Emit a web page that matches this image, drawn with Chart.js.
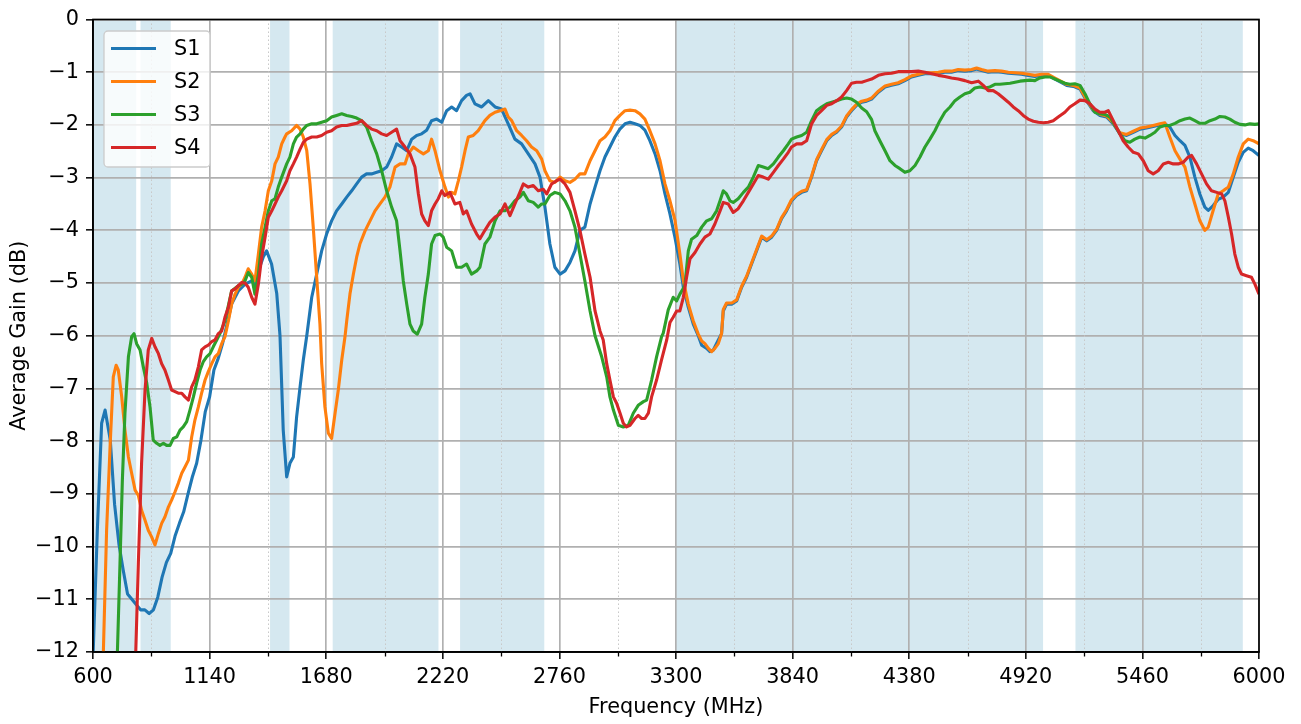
<!DOCTYPE html>
<html lang="en">
<head>
  <meta charset="UTF-8">
  <title>Average Gain vs Frequency</title>
  <script src="https://cdn.jsdelivr.net/npm/chart.js"></script>
  <style>
    html, body {
      margin: 0;
      padding: 0;
      background: #fff;
    }
    #wrap {
      width: 1301px;
      height: 724px;
    }
  </style>
</head>
<body>
  <div id="wrap">
    <canvas id="gainChart" width="1301" height="724"></canvas>
  </div>

  <script>
    // ---- data ----
    const seriesNames = ['S1', 'S2', 'S3', 'S4'];
    const seriesColors = ['#1f77b4', '#ff7f0e', '#2ca02c', '#d62728'];

    const xTickValues = [600, 1140, 1680, 2220, 2760, 3300, 3840, 4380, 4920, 5460, 6000];
    const xMinorValues = [870, 1410, 1950, 2490, 3030, 3570, 4110, 4650, 5190, 5730];
    const yTickValues = [0, -1, -2, -3, -4, -5, -6, -7, -8, -9, -10, -11, -12];

    // shaded frequency bands (MHz)
    const bandStart = [600, 820, 1420, 1710, 2300, 3300, 5150];
    const bandEnd = [800, 960, 1510, 2200, 2690, 5000, 5925];

    const s1Freq = [600, 620, 640, 656, 680, 700, 720, 740, 760, 780, 800, 820, 840, 860, 880, 900, 920, 940, 960, 980,
      1000, 1020, 1040, 1060, 1080, 1100, 1120, 1140, 1160, 1180, 1200, 1242, 1273, 1304, 1335, 1350, 1366, 1389, 1404, 1427,
      1451, 1466, 1481, 1497, 1512, 1528, 1543, 1559, 1574, 1590, 1613, 1636, 1659, 1682, 1705, 1728, 1752, 1775, 1798, 1821,
      1844, 1867, 1890, 1914, 1937, 1960, 1983, 2006, 2029, 2053, 2076, 2099, 2122, 2145, 2168, 2192, 2215, 2238, 2261, 2284,
      2307, 2330, 2346, 2369, 2400, 2431, 2462, 2492, 2523, 2554, 2585, 2616, 2647, 2670, 2693, 2716, 2739, 2763, 2786, 2809,
      2832, 2855, 2878, 2902, 2925, 2948, 2971, 2994, 3017, 3040, 3064, 3087, 3110, 3133, 3156, 3179, 3203, 3226, 3249, 3272,
      3295, 3318, 3334, 3357, 3380, 3403, 3419, 3442, 3457, 3473, 3496, 3511, 3519, 3534, 3558, 3581, 3604, 3627, 3650, 3673,
      3697, 3720, 3743, 3766, 3789, 3812, 3835, 3859, 3882, 3905, 3928, 3951, 3974, 3998, 4021, 4044, 4067, 4090, 4113, 4136,
      4160, 4183, 4206, 4237, 4268, 4298, 4329, 4360, 4391, 4422, 4453, 4484, 4515, 4545, 4576, 4607, 4638, 4669, 4692, 4715,
      4746, 4777, 4808, 4839, 4870, 4900, 4931, 4962, 4993, 5024, 5055, 5086, 5109, 5140, 5171, 5201, 5232, 5263, 5294, 5325,
      5356, 5387, 5418, 5449, 5479, 5510, 5541, 5564, 5587, 5611, 5634, 5657, 5680, 5703, 5726, 5749, 5765, 5788, 5811, 5834,
      5858, 5881, 5904, 5927, 5950, 5973, 6000];
    const s1Gain = [-12.1, -9.7, -7.66, -7.41, -7.98, -9.2, -9.95, -10.45, -10.9, -11.0, -11.1, -11.2, -11.2, -11.27, -11.2, -10.96, -10.58, -10.3, -10.13, -9.8,
      -9.56, -9.34, -9.0, -8.68, -8.42, -7.98, -7.44, -7.16, -6.65, -6.43, -6.15, -5.4, -5.15, -5.02, -4.96, -5.02, -4.77, -4.5, -4.39, -4.64,
      -5.2, -6.0, -7.79, -8.68, -8.42, -8.3, -7.54, -6.97, -6.46, -6.0, -5.27, -4.83, -4.39, -4.07, -3.82, -3.63, -3.5, -3.37, -3.25, -3.12,
      -2.99, -2.93, -2.93, -2.9, -2.87, -2.8, -2.61, -2.36, -2.42, -2.49, -2.27, -2.2, -2.17, -2.1, -1.92, -1.89, -1.95, -1.73, -1.66, -1.73,
      -1.54, -1.44, -1.41, -1.6, -1.66, -1.54, -1.66, -1.7, -1.98, -2.27, -2.36, -2.55, -2.74, -2.99, -3.56, -4.26, -4.7, -4.83, -4.77, -4.61,
      -4.39, -4.0, -3.94, -3.5, -3.18, -2.87, -2.61, -2.42, -2.23, -2.08, -1.98, -1.95, -1.98, -2.01, -2.1, -2.3, -2.55, -2.87, -3.31, -3.69,
      -4.13, -4.64, -5.08, -5.46, -5.78, -6.0, -6.18, -6.24, -6.3, -6.27, -6.08, -5.96, -5.53, -5.4, -5.4, -5.34, -5.08, -4.89, -4.64, -4.39,
      -4.13, -4.2, -4.13, -4.0, -3.78, -3.63, -3.44, -3.34, -3.28, -3.25, -2.99, -2.68, -2.49, -2.3, -2.2, -2.14, -2.04, -1.85, -1.73, -1.63,
      -1.57, -1.55, -1.51, -1.38, -1.28, -1.25, -1.22, -1.16, -1.09, -1.06, -1.03, -1.03, -1.02, -1.0, -1.0, -0.97, -0.98, -0.97, -0.94, -0.97,
      -1.0, -0.99, -1.0, -1.02, -1.03, -1.04, -1.06, -1.08, -1.06, -1.06, -1.13, -1.2, -1.25, -1.27, -1.32, -1.54, -1.73, -1.82, -1.85, -1.98,
      -2.17, -2.2, -2.14, -2.08, -2.06, -2.03, -2.0, -1.98, -2.04, -2.2, -2.3, -2.39, -2.61, -2.99, -3.31, -3.56, -3.62, -3.53, -3.41, -3.37,
      -3.28, -2.99, -2.71, -2.52, -2.44, -2.49, -2.58];

    const s2Freq = [630, 648, 663, 679, 694, 707, 717, 733, 748, 764, 779, 795, 810, 825, 841, 856, 872, 887, 903, 918,
      933, 949, 964, 980, 995, 1011, 1026, 1042, 1057, 1072, 1088, 1103, 1119, 1134, 1150, 1165, 1180, 1196, 1211, 1227,
      1242, 1258, 1273, 1289, 1304, 1319, 1335, 1350, 1366, 1381, 1397, 1412, 1428, 1443, 1458, 1474, 1489, 1497, 1520, 1543,
      1559, 1574, 1590, 1605, 1620, 1636, 1651, 1659, 1674, 1690, 1705, 1721, 1736, 1752, 1767, 1775, 1790, 1806, 1821, 1836,
      1860, 1883, 1906, 1929, 1952, 1975, 1999, 2022, 2045, 2060, 2083, 2107, 2130, 2153, 2168, 2184, 2207, 2230, 2246, 2261,
      2276, 2292, 2307, 2323, 2338, 2361, 2384, 2415, 2438, 2462, 2485, 2508, 2523, 2539, 2562, 2585, 2608, 2631, 2655, 2678,
      2693, 2716, 2739, 2763, 2786, 2809, 2832, 2855, 2878, 2902, 2925, 2948, 2971, 2994, 3017, 3040, 3064, 3087, 3110, 3133,
      3156, 3179, 3203, 3226, 3249, 3272, 3295, 3318, 3334, 3357, 3380, 3403, 3419, 3434, 3450, 3465, 3480, 3496, 3511, 3519,
      3534, 3558, 3581, 3604, 3627, 3650, 3673, 3697, 3720, 3743, 3766, 3789, 3812, 3835, 3859, 3882, 3905, 3928, 3951, 3974,
      3998, 4021, 4044, 4067, 4090, 4113, 4136, 4160, 4183, 4206, 4237, 4268, 4298, 4329, 4360, 4391, 4422, 4453, 4484, 4515,
      4545, 4576, 4607, 4638, 4669, 4692, 4715, 4746, 4777, 4808, 4839, 4870, 4900, 4931, 4962, 4993, 5024, 5055, 5086, 5109,
      5140, 5171, 5201, 5232, 5263, 5294, 5325, 5356, 5387, 5418, 5449, 5479, 5510, 5541, 5564, 5587, 5611, 5634, 5657, 5680,
      5703, 5726, 5749, 5765, 5788, 5811, 5834, 5858, 5881, 5904, 5927, 5950, 5973, 6000];
    const s2Gain = [-14, -12, -9.69, -8.11, -6.78, -6.56, -6.65, -7.16, -7.79, -8.3, -8.61, -8.93, -9.03, -9.31, -9.5, -9.69, -9.82, -9.97, -9.75, -9.56,
      -9.44, -9.25, -9.12, -8.96, -8.8, -8.61, -8.49, -8.36, -7.92, -7.6, -7.35, -7.09, -6.84, -6.68, -6.53, -6.4, -6.34, -6.15, -6.02, -5.72,
      -5.4, -5.21, -5.08, -5.02, -4.89, -4.73, -4.83, -4.96, -4.45, -3.94, -3.63, -3.25, -3.06, -2.74, -2.61, -2.36, -2.23, -2.17, -2.11, -2.01,
      -2.08, -2.23, -2.49, -3.12, -3.94, -4.89, -5.78, -6.53, -7.35, -7.85, -7.95, -7.47, -7.03, -6.46, -6.02, -5.72, -5.21, -4.83, -4.51, -4.26,
      -4.01, -3.82, -3.63, -3.5, -3.37, -3.18, -2.8, -2.74, -2.74, -2.55, -2.42, -2.49, -2.55, -2.49, -2.27, -2.49, -2.87, -3.18, -3.37, -3.28,
      -3.31, -3.06, -2.8, -2.49, -2.23, -2.2, -2.11, -1.92, -1.82, -1.76, -1.73, -1.7, -1.85, -1.92, -2.11, -2.2, -2.3, -2.42, -2.49, -2.65,
      -2.87, -3.06, -3.09, -2.99, -3.06, -3.09, -3.03, -2.93, -2.93, -2.68, -2.49, -2.3, -2.23, -2.11, -1.92, -1.82, -1.73, -1.72, -1.73, -1.79,
      -1.89, -2.11, -2.36, -2.68, -3.12, -3.44, -3.8, -4.45, -4.95, -5.4, -5.72, -5.97, -6.1, -6.15, -6.24, -6.3, -6.24, -6.15, -5.96, -5.5,
      -5.38, -5.38, -5.32, -5.06, -4.87, -4.62, -4.37, -4.11, -4.18, -4.11, -3.98, -3.76, -3.61, -3.42, -3.32, -3.26, -3.23, -2.97, -2.66, -2.47,
      -2.28, -2.18, -2.12, -2.02, -1.83, -1.71, -1.61, -1.55, -1.53, -1.49, -1.36, -1.26, -1.23, -1.2, -1.14, -1.07, -1.04, -1.01, -1.01, -1.0,
      -0.98, -0.98, -0.95, -0.96, -0.95, -0.92, -0.95, -0.98, -0.97, -0.98, -1.0, -1.01, -1.02, -1.04, -1.06, -1.04, -1.04, -1.11, -1.18, -1.23,
      -1.25, -1.3, -1.52, -1.71, -1.8, -1.83, -1.96, -2.15, -2.18, -2.12, -2.06, -2.04, -2.01, -1.98, -1.96, -2.23, -2.49, -2.65, -2.8, -3.18,
      -3.5, -3.82, -4.0, -3.94, -3.62, -3.31, -3.25, -3.18, -2.93, -2.61, -2.36, -2.27, -2.3, -2.36];

    const s3Freq = [700, 713, 725, 736, 748, 764, 779, 790, 802, 818, 833, 849, 864, 879, 895, 910, 926, 941, 957, 972,
      988, 1003, 1018, 1034, 1049, 1065, 1080, 1096, 1111, 1126, 1142, 1157, 1173, 1188, 1211, 1242, 1273, 1289, 1304, 1319,
      1335, 1350, 1366, 1381, 1397, 1412, 1428, 1443, 1458, 1474, 1497, 1512, 1528, 1543, 1559, 1574, 1590, 1613, 1636, 1659,
      1682, 1705, 1728, 1752, 1775, 1798, 1821, 1844, 1867, 1890, 1914, 1937, 1960, 1983, 2006, 2022, 2037, 2053, 2068, 2083,
      2102, 2122, 2137, 2153, 2168, 2184, 2207, 2222, 2238, 2261, 2284, 2307, 2330, 2353, 2377, 2392, 2415, 2438, 2462, 2485,
      2508, 2531, 2554, 2577, 2593, 2616, 2639, 2662, 2678, 2693, 2716, 2739, 2763, 2786, 2809, 2832, 2855, 2878, 2902, 2925,
      2956, 2979, 2994, 3010, 3033, 3056, 3079, 3102, 3125, 3149, 3164, 3187, 3210, 3233, 3241, 3264, 3287, 3303, 3318, 3341,
      3357, 3372, 3396, 3419, 3442, 3465, 3488, 3504, 3519, 3534, 3550, 3565, 3588, 3612, 3635, 3658, 3681, 3704, 3727, 3751,
      3774, 3797, 3820, 3835, 3859, 3882, 3905, 3928, 3951, 3974, 3998, 4021, 4044, 4067, 4090, 4113, 4136, 4160, 4183, 4206,
      4221, 4244, 4268, 4291, 4314, 4337, 4360, 4383, 4407, 4430, 4453, 4476, 4499, 4522, 4545, 4569, 4592, 4615, 4638, 4661,
      4684, 4708, 4731, 4754, 4777, 4800, 4823, 4847, 4870, 4893, 4916, 4939, 4962, 4985, 5009, 5032, 5055, 5078, 5101, 5124,
      5147, 5171, 5194, 5217, 5240, 5263, 5286, 5310, 5333, 5356, 5379, 5402, 5425, 5448, 5472, 5495, 5518, 5541, 5564, 5587,
      5611, 5634, 5657, 5680, 5703, 5726, 5749, 5773, 5796, 5819, 5842, 5865, 5888, 5912, 5935, 5958, 5981, 6000];
    const s3Gain = [-14, -12, -10.32, -8.74, -7.47, -6.4, -6.02, -5.96, -6.15, -6.27, -6.59, -6.9, -7.35, -7.98, -8.04, -8.08, -8.04, -8.08, -8.08, -7.95,
      -7.92, -7.79, -7.73, -7.63, -7.41, -7.16, -6.9, -6.65, -6.49, -6.4, -6.34, -6.21, -6.08, -5.96, -5.72, -5.15, -5.05, -5.02, -4.96, -4.8,
      -4.89, -5.21, -4.83, -4.26, -3.94, -3.63, -3.44, -3.4, -3.18, -2.99, -2.74, -2.61, -2.36, -2.23, -2.17, -2.08, -2.01, -1.98, -1.98, -1.95,
      -1.92, -1.85, -1.82, -1.79, -1.82, -1.84, -1.87, -1.92, -2.04, -2.3, -2.55, -2.87, -3.25, -3.56, -3.82, -4.39, -4.96, -5.4, -5.78, -5.91,
      -5.97, -5.78, -5.27, -4.83, -4.26, -4.1, -4.07, -4.13, -4.32, -4.39, -4.7, -4.7, -4.64, -4.83, -4.77, -4.7, -4.26, -4.13, -3.82, -3.63,
      -3.63, -3.56, -3.44, -3.37, -3.28, -3.44, -3.47, -3.56, -3.5, -3.5, -3.34, -3.28, -3.31, -3.44, -3.63, -3.94, -4.45, -4.96, -5.53, -6.0,
      -6.4, -6.78, -7.16, -7.41, -7.7, -7.73, -7.7, -7.47, -7.32, -7.25, -7.22, -6.84, -6.4, -6.02, -5.95, -5.51, -5.27, -5.34, -5.21, -5.05,
      -4.39, -4.17, -4.1, -3.94, -3.82, -3.78, -3.63, -3.44, -3.25, -3.31, -3.44, -3.47, -3.4, -3.28, -3.18, -2.99, -2.77, -2.8, -2.83, -2.74,
      -2.61, -2.49, -2.36, -2.27, -2.23, -2.2, -2.14, -1.92, -1.73, -1.66, -1.6, -1.57, -1.54, -1.51, -1.49, -1.51, -1.57, -1.68, -1.75, -1.9,
      -2.11, -2.3, -2.49, -2.68, -2.77, -2.83, -2.9, -2.87, -2.77, -2.61, -2.42, -2.27, -2.11, -1.92, -1.76, -1.66, -1.54, -1.47, -1.41, -1.38,
      -1.3, -1.28, -1.3, -1.28, -1.23, -1.23, -1.22, -1.21, -1.19, -1.17, -1.16, -1.15, -1.16, -1.11, -1.09, -1.09, -1.13, -1.17, -1.21, -1.23,
      -1.22, -1.25, -1.41, -1.6, -1.76, -1.79, -1.8, -1.85, -2.01, -2.17, -2.3, -2.33, -2.27, -2.23, -2.25, -2.2, -2.14, -2.04, -2.01, -2.01,
      -1.97, -1.92, -1.89, -1.87, -1.92, -1.97, -1.97, -1.92, -1.89, -1.84, -1.85, -1.89, -1.95, -1.99, -2.0, -1.98, -1.99, -1.98];

    const s4Freq = [790, 798, 810, 825, 841, 856, 872, 887, 903, 918, 933, 949, 964, 980, 995, 1011, 1026, 1042, 1057, 1072,
      1088, 1103, 1119, 1134, 1150, 1165, 1180, 1196, 1211, 1227, 1242, 1258, 1273, 1289, 1304, 1319, 1335, 1350, 1366, 1381,
      1397, 1412, 1428, 1443, 1458, 1474, 1497, 1512, 1528, 1543, 1559, 1574, 1590, 1613, 1636, 1659, 1682, 1705, 1728, 1752,
      1775, 1798, 1821, 1844, 1867, 1890, 1914, 1937, 1960, 1983, 2006, 2022, 2045, 2068, 2091, 2107, 2122, 2137, 2153, 2168,
      2184, 2199, 2215, 2230, 2253, 2276, 2299, 2315, 2330, 2353, 2377, 2392, 2415, 2438, 2462, 2485, 2508, 2531, 2554, 2577,
      2593, 2616, 2639, 2662, 2685, 2701, 2724, 2747, 2763, 2786, 2809, 2832, 2855, 2878, 2902, 2925, 2948, 2963, 2979, 2994,
      3010, 3025, 3041, 3056, 3071, 3087, 3110, 3125, 3141, 3156, 3172, 3187, 3210, 3233, 3257, 3272, 3287, 3303, 3318, 3334,
      3349, 3365, 3388, 3411, 3434, 3457, 3480, 3504, 3519, 3542, 3565, 3588, 3612, 3635, 3658, 3681, 3704, 3727, 3751, 3774,
      3797, 3820, 3835, 3859, 3882, 3905, 3928, 3951, 3974, 3998, 4021, 4044, 4067, 4090, 4113, 4136, 4160, 4183, 4206, 4237,
      4268, 4298, 4329, 4360, 4391, 4422, 4453, 4484, 4515, 4545, 4576, 4607, 4638, 4669, 4700, 4723, 4746, 4769, 4792, 4816,
      4839, 4862, 4885, 4908, 4931, 4955, 4978, 5001, 5024, 5047, 5070, 5101, 5124, 5147, 5171, 5194, 5217, 5240, 5263, 5286,
      5302, 5325, 5348, 5371, 5394, 5418, 5441, 5464, 5487, 5510, 5533, 5557, 5580, 5603, 5626, 5649, 5672, 5688, 5711, 5734,
      5757, 5780, 5804, 5827, 5842, 5858, 5873, 5888, 5904, 5919, 5942, 5965, 5981, 6000];
    const s4Gain = [-14, -12, -10.32, -8.42, -7.03, -6.27, -6.05, -6.21, -6.34, -6.53, -6.65, -6.84, -7.03, -7.06, -7.09, -7.09, -7.16, -7.22, -6.97, -6.84,
      -6.59, -6.27, -6.21, -6.18, -6.11, -6.08, -5.96, -5.91, -5.65, -5.46, -5.15, -5.11, -5.05, -4.99, -5.0, -5.08, -5.27, -5.4, -5.02, -4.51,
      -4.13, -3.75, -3.63, -3.5, -3.37, -3.25, -3.06, -2.87, -2.74, -2.61, -2.46, -2.33, -2.27, -2.23, -2.23, -2.2, -2.14, -2.11, -2.04, -2.01,
      -2.01, -1.99, -1.97, -1.92, -2.01, -2.08, -2.11, -2.17, -2.2, -2.14, -2.08, -2.3, -2.42, -2.55, -2.8, -3.31, -3.69, -3.82, -3.91, -3.63,
      -3.5, -3.4, -3.25, -3.34, -3.28, -3.5, -3.47, -3.69, -3.63, -3.88, -4.07, -4.16, -4.0, -3.85, -3.75, -3.69, -3.5, -3.72, -3.5, -3.28,
      -3.12, -3.18, -3.15, -3.25, -3.22, -3.31, -3.12, -3.06, -3.03, -3.12, -3.28, -3.63, -4.0, -4.45, -4.89, -5.53, -5.91, -6.08, -6.53, -6.84,
      -7.16, -7.28, -7.47, -7.66, -7.73, -7.7, -7.57, -7.51, -7.57, -7.57, -7.47, -7.16, -6.84, -6.46, -6.08, -5.75, -5.65, -5.53, -5.53, -5.27,
      -4.89, -4.54, -4.42, -4.26, -4.13, -4.07, -3.88, -3.63, -3.47, -3.5, -3.66, -3.59, -3.44, -3.28, -3.12, -2.96, -2.99, -3.03, -2.9, -2.77,
      -2.65, -2.52, -2.42, -2.36, -2.36, -2.3, -1.98, -1.82, -1.73, -1.63, -1.6, -1.54, -1.47, -1.35, -1.21, -1.19, -1.19, -1.16, -1.13, -1.06,
      -1.03, -1.02, -0.99, -0.99, -0.99, -0.98, -1.0, -1.03, -1.06, -1.08, -1.11, -1.13, -1.16, -1.2, -1.17, -1.25, -1.35, -1.35, -1.41, -1.49,
      -1.57, -1.66, -1.73, -1.82, -1.89, -1.93, -1.95, -1.96, -1.95, -1.92, -1.85, -1.76, -1.66, -1.6, -1.53, -1.54, -1.6, -1.7, -1.76, -1.76,
      -1.73, -1.92, -2.11, -2.3, -2.42, -2.52, -2.55, -2.68, -2.87, -2.93, -2.87, -2.74, -2.71, -2.74, -2.74, -2.71, -2.61, -2.58, -2.74, -2.93,
      -3.12, -3.25, -3.28, -3.31, -3.44, -3.75, -4.07, -4.45, -4.7, -4.83, -4.86, -4.89, -5.02, -5.21];

    const allFreq = [s1Freq, s2Freq, s3Freq, s4Freq];
    const allGain = [s1Gain, s2Gain, s3Gain, s4Gain];

    // ---- look ----
    const FONT = 'DejaVu Sans';
    const FS = 20.8;
    const GRID = '#b0b0b0';

    Chart.defaults.font.family = FONT;
    Chart.defaults.font.size = FS;
    Chart.defaults.color = '#000';

    const datasets = seriesNames.map((name, i) => ({
      label: name,
      data: allFreq[i].map((f, k) => ({ x: f, y: allGain[i][k] })),
      borderColor: seriesColors[i],
      borderWidth: 3.1,
      borderJoinStyle: 'round',
      pointRadius: 0,
      tension: 0,
      fill: false,
      clip: 0,
      order: seriesNames.length - 1 - i
    }));

    // bands, minor grid, full frame and the inset legend
    const decor = {
      id: 'decor',
      beforeDraw(chart) {
        const { ctx, chartArea: a, scales: { x } } = chart;
        ctx.save();
        ctx.fillStyle = 'rgb(213,232,240)';
        bandStart.forEach((s, i) => {
          const x0 = x.getPixelForValue(s);
          const x1 = x.getPixelForValue(bandEnd[i]);
          ctx.fillRect(x0, a.top, x1 - x0, a.bottom - a.top);
        });
        ctx.restore();
      },
      beforeDatasetsDraw(chart) {
        const { ctx, chartArea: a, scales: { x } } = chart;
        ctx.save();
        ctx.strokeStyle = '#c8c8c8';
        ctx.lineWidth = 1;
        ctx.setLineDash([1.5, 2.5]);
        xMinorValues.forEach(v => {
          const px = Math.round(x.getPixelForValue(v)) + 0.5;
          ctx.beginPath();
          ctx.moveTo(px, a.top);
          ctx.lineTo(px, a.bottom);
          ctx.stroke();
        });
        ctx.setLineDash([]);
        ctx.strokeStyle = '#000';
        ctx.lineWidth = 1.3;
        xMinorValues.forEach(v => {
          const px = Math.round(x.getPixelForValue(v)) + 0.5;
          ctx.beginPath();
          ctx.moveTo(px, a.bottom);
          ctx.lineTo(px, a.bottom + 4.5);
          ctx.stroke();
        });
        ctx.restore();
      },
      afterDatasetsDraw(chart) {
        const { ctx, chartArea: a } = chart;
        ctx.save();
        // spines
        ctx.strokeStyle = '#000';
        ctx.lineWidth = 1.67;
        ctx.strokeRect(a.left, a.top, a.right - a.left, a.bottom - a.top);

        // legend box
        const lx = 104, ly = 31, lw = 106, lh = 136;
        ctx.beginPath();
        ctx.roundRect(lx, ly, lw, lh, 4);
        ctx.fillStyle = 'rgba(255,255,255,0.8)';
        ctx.fill();
        ctx.strokeStyle = '#cccccc';
        ctx.lineWidth = 1.3;
        ctx.stroke();

        ctx.font = FS + 'px "' + FONT + '"';
        ctx.textBaseline = 'middle';
        ctx.textAlign = 'left';
        seriesNames.forEach((name, i) => {
          const ry = 48.5 + i * 33;
          ctx.beginPath();
          ctx.moveTo(111, ry);
          ctx.lineTo(156, ry);
          ctx.strokeStyle = seriesColors[i];
          ctx.lineWidth = 3.1;
          ctx.stroke();
          ctx.fillStyle = '#000';
          ctx.fillText(name, 174, ry + 1);
        });
        ctx.restore();
      }
    };

    new Chart(document.getElementById('gainChart'), {
      type: 'line',
      data: { datasets: datasets },
      options: {
        responsive: false,
        animation: false,
        layout: { padding: { left: 0, right: 42, top: 19, bottom: 0 } },
        plugins: {
          legend: { display: false },
          tooltip: { enabled: false }
        },
        scales: {
          x: {
            type: 'linear',
            min: 600,
            max: 6000,
            afterBuildTicks: s => { s.ticks = xTickValues.map(v => ({ value: v })); },
            afterFit: s => { s.height = 72; },
            ticks: { padding: 6, maxRotation: 0, autoSkip: false, color: '#000', callback: v => String(v) },
            grid: { color: GRID, lineWidth: 1.67, tickLength: 7, tickColor: '#000', tickWidth: 1.5 },
            border: { color: '#000', width: 1.67 },
            title: {
              display: true,
              text: 'Frequency (MHz)',
              color: '#000',
              font: { size: FS },
              padding: { top: 0, bottom: 3.5 }
            }
          },
          y: {
            type: 'linear',
            min: -12,
            max: 0,
            afterBuildTicks: s => { s.ticks = yTickValues.map(v => ({ value: v })); },
            afterFit: s => { s.width = 93; },
            ticks: {
              padding: 7,
              color: '#000',
              callback: v => (v < 0 ? '\u2212' + Math.abs(v) : String(v))
            },
            grid: { color: GRID, lineWidth: 1.67, tickLength: 7, tickColor: '#000', tickWidth: 1.5 },
            border: { color: '#000', width: 1.67 },
            title: {
              display: true,
              text: 'Average Gain (dB)',
              color: '#000',
              font: { size: FS },
              padding: { top: 7.5, bottom: 0 }
            }
          }
        }
      },
      plugins: [decor]
    });
  </script>
</body>
</html>
